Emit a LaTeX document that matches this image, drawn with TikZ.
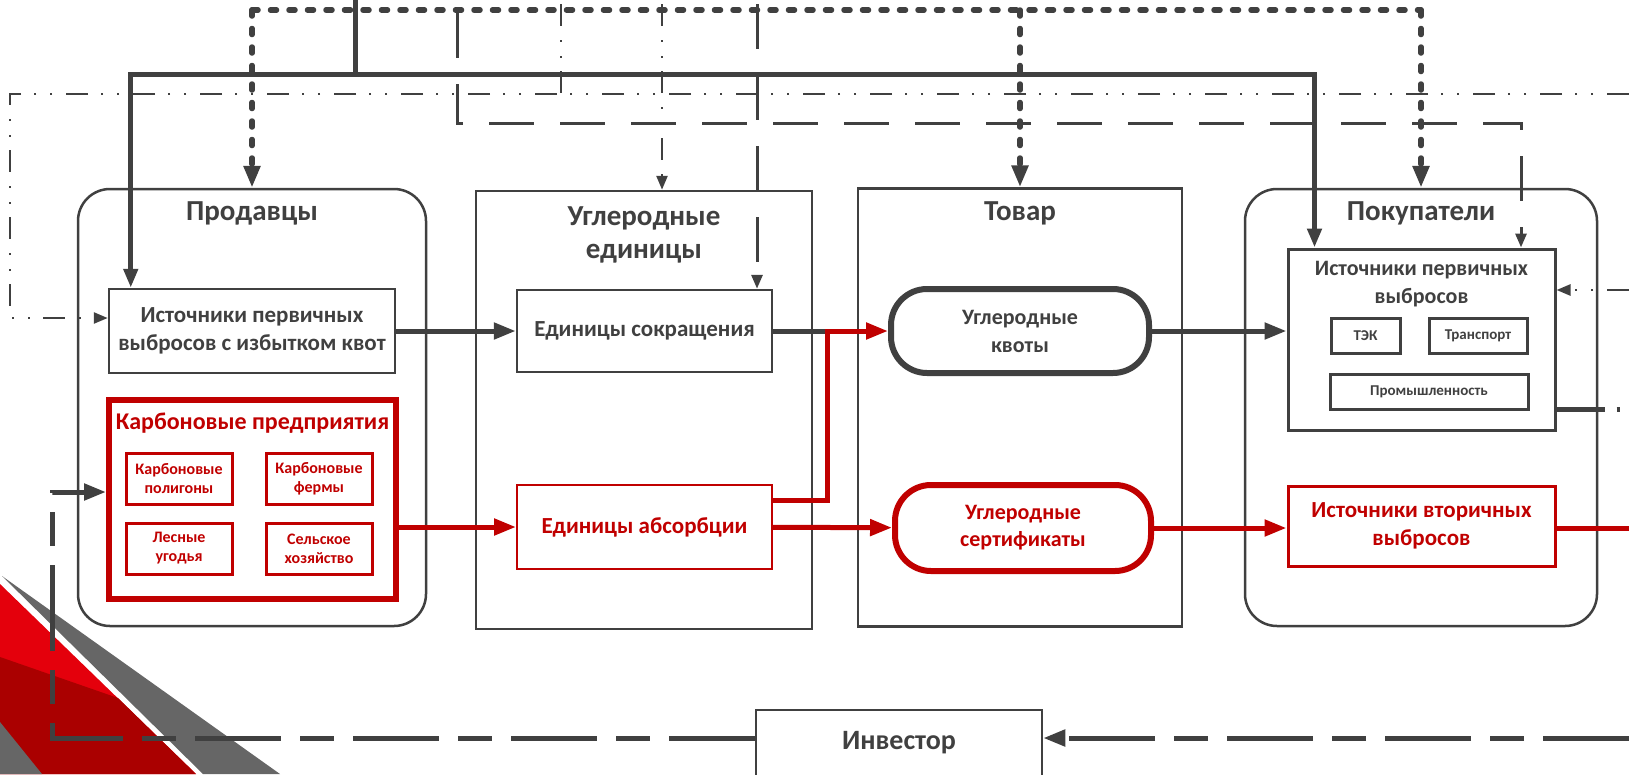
\documentclass[tikz,border=0pt]{standalone}
\usepackage{fontspec}
\setmainfont{Carlito}
\usetikzlibrary{arrows.meta}
\definecolor{dgray}{RGB}{64,64,64}
\definecolor{dred}{RGB}{192,0,0}
\definecolor{brred}{RGB}{228,0,12}
\definecolor{drred}{RGB}{170,0,0}
\definecolor{bggray}{RGB}{102,102,102}
\newcommand{\fs}[2]{\fontsize{#1}{#2}\selectfont\bfseries}

\begin{document}
\begin{tikzpicture}[x=1pt,y=-1pt,every text node part/.style={align=center},
  box/.style={draw=dgray,line width=2.5pt,inner sep=0pt,text=dgray},
  rbox/.style={box,rounded corners=32pt},
  redbox/.style={box,draw=dred,text=dred},
  title/.style={text=dgray,font=\fs{29}{33}},
  sub/.style={redbox,line width=3pt,minimum width=106pt,minimum height=51pt,font=\fs{16}{19}},
  small/.style={box,line width=3pt,minimum height=35pt,font=\fs{15}{18}},
  arr/.style={-{Triangle[length=22pt,width=16pt]}},
  marr/.style={-{Triangle[length=19pt,width=14pt]}},
  sarr/.style={-{Triangle[length=14pt,width=11pt]}},
  thickline/.style={draw=dgray,line width=5pt},
  redline/.style={draw=dred,line width=5pt},
  dotline/.style={draw=dgray,line width=5.5pt,line cap=round,dash pattern=on 6pt off 12.5pt},
  ddot/.style={draw=dgray,line width=2.5pt,dash pattern=on 22pt off 14pt on 2pt off 14pt on 2pt off 13pt},
  ldash/.style={draw=dgray,line width=3pt,dash pattern=on 45pt off 26pt},
  invline/.style={draw=dgray,line width=5pt,dash pattern=on 86pt off 19pt on 34pt off 19pt}]
\useasboundingbox (0,0) rectangle (1629,774);
\fill[bggray] (2,576) -- (280,774) -- (203,774) -- cycle;
\fill[brred] (0,584) -- (196,774) -- (0,774) -- cycle;
\fill[drred] (0,657) -- (118,698) -- (196,774) -- (0,774) -- cycle;
\fill[bggray] (0,722) -- (42,774) -- (0,774) -- cycle;

\node[rbox,minimum width=348pt,minimum height=437pt] (sell) at (252,407.5) {};
\node[box,minimum width=336pt,minimum height=438pt] (units) at (644,410) {};
\node[box,minimum width=324pt,minimum height=438pt] (goods) at (1020,407.5) {};
\node[rbox,minimum width=352pt,minimum height=437pt] (buy) at (1421,407.5) {};
\node[title] (sellT) at (252,213) {Продавцы};
\node[title] (unitsT) at (644,235) {Углеродные\\единицы};
\node[title] (goodsT) at (1020,213) {Товар};
\node[title] (buyT) at (1421,213) {Покупатели};

\node[box,minimum width=286pt,minimum height=84pt,font=\fs{23}{28}] (src1) at (252,331) {Источники первичных\\выбросов с избытком квот};
\node[redbox,line width=6pt,minimum width=287pt,minimum height=199pt] (carb) at (252.5,499.5) {};
\node[text=dred,font=\fs{24}{29}] (carbT) at (252.5,423) {Карбоновые предприятия};
\node[sub] (poly) at (179,478.5) {Карбоновые\\полигоны};
\node[sub] (farm) at (319,478.5) {Карбоновые\\фермы};
\node[sub] (forest) at (179,548.5) {Лесные\\угодья};
\node[sub] (agro) at (319,548.5) {Сельское\\хозяйство};

\node[box,minimum width=255pt,minimum height=82pt,font=\fs{23}{28}] (cut) at (644.5,331) {Единицы сокращения};
\node[redbox,line width=2pt,minimum width=255pt,minimum height=84pt,font=\fs{23}{28}] (abs) at (644.5,527) {Единицы абсорбции};
\node[rbox,line width=6pt,rounded corners=36pt,minimum width=258pt,minimum height=84pt,font=\fs{22}{28}] (quota) at (1020,331) {Углеродные\\квоты};
\node[redbox,line width=6pt,rounded corners=36pt,minimum width=256pt,minimum height=86pt,font=\fs{22}{27}] (cert) at (1023,528) {Углеродные\\сертификаты};

\node[box,line width=3pt,minimum width=267pt,minimum height=181pt] (bsrc) at (1421.5,339.5) {};
\node[text=dgray,font=\fs{22}{28}] (bsrcT) at (1421.5,284) {Источники первичных\\выбросов};
\node[small,minimum width=69pt] (tek) at (1365.5,335.5) {ТЭК};
\node[small,minimum width=98pt] (trans) at (1478,335.5) {Транспорт};
\node[small,minimum width=198pt] (prom) at (1429,391.5) {Промышленность};
\node[redbox,line width=3pt,minimum width=267pt,minimum height=80pt,font=\fs{23}{28}] (sec) at (1421.5,526) {Источники вторичных\\выбросов};
\node[box,minimum width=286pt,minimum height=66pt,font=\fs{28}{32}] (inv) at (899,743) {Инвестор};

\coordinate (busL) at (sell.north |- 0,10);
\coordinate (topS) at (355,0);
\coordinate (jS) at (355,74);
\coordinate (eA) at (1629,94);
\coordinate (lA) at (10,318);
\coordinate (vA) at (561,4);
\coordinate (vB) at (662,4);
\coordinate (vC) at (457,13);
\coordinate (kC) at (1521,123);
\coordinate (vD) at (757,4);
\coordinate (kA) at (827,500);
\coordinate (eB) at (1629,409);
\coordinate (eC) at (1629,290);
\coordinate (eD) at (1629,528);
\coordinate (eI) at (1629,738);
\coordinate (kI) at (52,492);

\draw[ddot,sarr] (eA) -| (lA) -- (lA -| src1.west);
\draw[ddot] (vA) -- (vA |- eA);
\draw[ddot,sarr] (vB) -- (vB |- units.north);
\draw[ldash,sarr] (vC) |- (kC) -- (kC |- bsrc.north);
\draw[ldash,sarr] (vD) -- (vD |- cut.north);
\draw[thickline] (topS) -- (jS);
\draw[thickline,marr] (jS) -| ([xshift=23pt]src1.north west);
\draw[thickline,marr] (jS) -| ([xshift=28pt]bsrc.north west);
\draw[dotline] (busL) -- (buy.north |- busL);
\draw[dotline,arr] (busL) -- (sell.north);
\draw[dotline,arr] (goods.north |- busL) -- (goods.north);
\draw[dotline,arr] (buy.north |- busL) -- (buy.north);

\draw[thickline,arr] (src1) -- (cut);
\draw[redline,arr] (carb.east |- abs) -- (abs);
\draw[thickline] (cut.east) -- (kA |- cut.east);
\draw[redline,arr] (abs.east |- kA) -- (kA) |- (quota.west);
\draw[redline,arr] (abs) -- (cert);
\draw[thickline,arr] (quota) -- (quota -| bsrc.west);
\draw[redline,arr] (cert) -- (cert -| sec.west);
\draw[redline] (sec.east |- eD) -- (eD);
\draw[thickline,dash pattern=on 48pt off 12pt on 3pt off 12pt] (bsrc.east |- eB) -- (eB);
\draw[ddot,sarr] (eC) -- (eC -| bsrc.east);
\draw[invline,arr] (eI) -- (eI -| inv.east);
\draw[invline,arr] (inv.west |- eI) -| (kI) -- (kI -| carb.west);
\end{tikzpicture}
\end{document}
